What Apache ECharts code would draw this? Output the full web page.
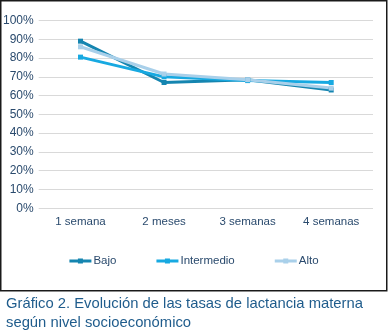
<!DOCTYPE html>
<html><head><meta charset="utf-8">
<script src="https://cdn.jsdelivr.net/npm/echarts@6/dist/echarts.min.js"></script>
<style>html,body{margin:0;padding:0;background:#fff}#c{width:388px;height:334px}</style>
</head><body><div id="c"></div>
<script>
var categories = ['1 semana', '2 meses', '3 semanas', '4 semanas'];
var seriesNames = ['Bajo', 'Intermedio', 'Alto'];
var bajo = [89, 67, 68.5, 63];
var intermedio = [80.5, 70, 68, 67];
var alto = [86, 71.5, 68.5, 64];
var yTicks = [0, 10, 20, 30, 40, 50, 60, 70, 80, 90, 100];
var colors = ['#1585b0', '#17a9e1', '#a9d0ea'];
var titleText = 'Gráfico 2. Evolución de las tasas de lactancia materna\nsegún nivel socioeconómico';

var font = '"Liberation Sans", sans-serif';
var chart = echarts.init(document.getElementById('c'), null, {renderer: 'canvas'});
var data = [bajo, intermedio, alto];
chart.setOption({
  animation: false,
  textStyle: {fontFamily: font},
  title: {
    text: titleText, left: 1, top: 289,
    textStyle: {fontFamily: font, fontSize: 14.8, fontWeight: 'normal', color: '#1f5c8c', lineHeight: 19}
  },
  graphic: [{type: 'rect', shape: {x: 0.75, y: 0.75, width: 386, height: 290}, style: {fill: 'none', stroke: '#1a1a1a', lineWidth: 1.5}, z: 100}],
  legend: {
    top: 250, left: 'center', itemWidth: 22, itemHeight: 5, itemGap: 40,
    textStyle: {fontFamily: font, fontSize: 11.5, color: '#2a4a6d', padding: [0,0,0,-3]},
    data: seriesNames.map(function(n){return {name: n, icon: 'path://M0,1 L22,1 L22,4 L0,4 Z M8.5,0 L13.5,0 L13.5,5 L8.5,5 Z'};})
  },
  grid: {left: 36, right: 15, top: 20.5, height: 187.8},
  xAxis: {
    type: 'category', data: categories, boundaryGap: true,
    axisLine: {show: false}, axisTick: {show: false},
    axisLabel: {fontFamily: font, fontSize: 11.5, color: '#2a4a6d', margin: 8}
  },
  yAxis: {
    type: 'value', min: 0, max: 100, interval: 10,
    axisLabel: {formatter: function(v){return v + '%';}, fontFamily: font, fontSize: 12, color: '#2a4a6d', margin: 5},
    splitLine: {lineStyle: {color: '#d9d9d9', width: 1}},
    axisLine: {show: false}, axisTick: {show: false}
  },
  series: seriesNames.map(function(n, i){
    return {
      name: n, type: 'line', data: data[i], color: colors[i],
      symbol: 'rect', symbolSize: 5, showAllSymbol: true,
      lineStyle: {width: 3, color: colors[i]},
      itemStyle: {color: colors[i]}
    };
  })
});
</script></body></html>
